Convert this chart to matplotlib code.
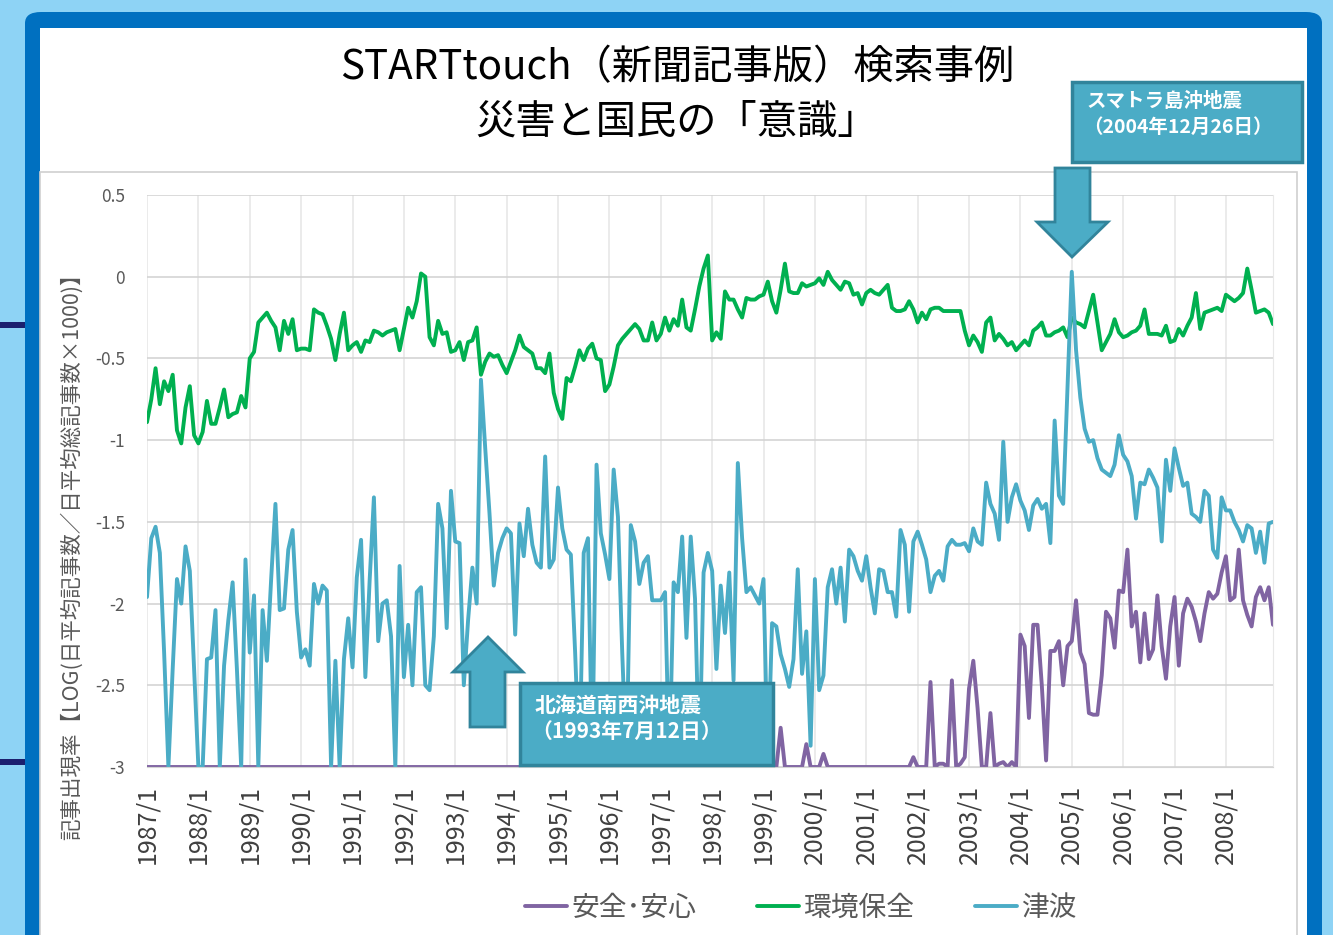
import numpy as np
import matplotlib
matplotlib.use("Agg")
import matplotlib.pyplot as plt
from matplotlib.patches import FancyBboxPatch, Rectangle, Polygon

plt.rcParams['font.family'] = ['Noto Sans CJK JP', 'DejaVu Sans']

# 月次データ 1987/1 〜 2008/12（各行 = 1年）
YEAR_LABELS = ["1987/1", "1988/1", "1989/1", "1990/1", "1991/1", "1992/1",
               "1993/1", "1994/1", "1995/1", "1996/1", "1997/1", "1998/1",
               "1999/1", "2000/1", "2001/1", "2002/1", "2003/1", "2004/1",
               "2005/1", "2006/1", "2007/1", "2008/1"]

safety = [  # 安全・安心
    -3.0, -3.0, -3.0, -3.0, -3.0, -3.0, -3.0, -3.0, -3.0, -3.0, -3.0, -3.0,
    -3.0, -3.0, -3.0, -3.0, -3.0, -3.0, -3.0, -3.0, -3.0, -3.0, -3.0, -3.0,
    -3.0, -3.0, -3.0, -3.0, -3.0, -3.0, -3.0, -3.0, -3.0, -3.0, -3.0, -3.0,
    -3.0, -3.0, -3.0, -3.0, -3.0, -3.0, -3.0, -3.0, -3.0, -3.0, -3.0, -3.0,
    -3.0, -3.0, -3.0, -3.0, -3.0, -3.0, -3.0, -3.0, -3.0, -3.0, -3.0, -3.0,
    -3.0, -3.0, -3.0, -3.0, -3.0, -3.0, -3.0, -3.0, -3.0, -3.0, -3.0, -3.0,
    -3.0, -3.0, -3.0, -3.0, -3.0, -3.0, -3.0, -3.0, -3.0, -3.0, -3.0, -3.0,
    -3.0, -3.0, -3.0, -3.0, -3.0, -3.0, -3.0, -3.0, -3.0, -3.0, -3.0, -3.0,
    -3.0, -3.0, -3.0, -3.0, -3.0, -3.0, -3.0, -3.0, -3.0, -3.0, -3.0, -3.0,
    -3.0, -3.0, -3.0, -3.0, -3.0, -3.0, -3.0, -3.0, -3.0, -3.0, -3.0, -3.0,
    -3.0, -3.0, -3.0, -3.0, -3.0, -3.0, -3.0, -3.0, -3.0, -3.0, -3.0, -3.0,
    -3.0, -3.0, -3.0, -3.0, -3.0, -3.0, -3.0, -3.0, -3.0, -3.0, -3.0, -3.0,
    -3.0, -3.0, -3.0, -3.0, -2.76, -3.0, -3.0, -3.0, -3.0, -3.0, -2.86, -3.0,
    -3.0, -3.0, -2.92, -3.0, -3.0, -3.0, -3.0, -3.0, -3.0, -3.0, -3.0, -3.0,
    -3.0, -3.0, -3.0, -3.0, -3.0, -3.0, -3.0, -3.0, -3.0, -3.0, -3.0, -2.94,
    -3.0, -3.0, -3.0, -2.48, -3.0, -2.98, -2.98, -3.0, -2.47, -3.0, -2.98, -2.94,
    -2.52, -2.35, -2.64, -3.0, -3.0, -2.67, -3.0, -2.98, -2.97, -3.0, -2.97, -3.0,
    -2.19, -2.26, -2.70, -2.13, -2.13, -2.50, -2.96, -2.29, -2.29, -2.23, -2.50, -2.26,
    -2.23, -1.98, -2.30, -2.37, -2.67, -2.68, -2.68, -2.44, -2.05, -2.09, -2.27, -1.92,
    -1.93, -1.67, -2.14, -2.05, -2.36, -2.06, -2.34, -2.28, -1.95, -2.26, -2.46, -2.14,
    -1.96, -2.38, -2.06, -1.97, -2.02, -2.11, -2.23, -2.06, -1.93, -1.97, -1.94, -1.81,
    -1.71, -1.98, -1.96, -1.67, -1.98, -2.07, -2.14, -1.96, -1.90, -1.98, -1.90, -2.13,
]

environment = [  # 環境保全
    -0.89, -0.75, -0.56, -0.78, -0.64, -0.70, -0.60, -0.94, -1.02, -0.80, -0.67, -0.97,
    -1.02, -0.95, -0.76, -0.90, -0.90, -0.80, -0.69, -0.86, -0.84, -0.83, -0.73, -0.80,
    -0.50, -0.46, -0.28, -0.25, -0.22, -0.27, -0.31, -0.45, -0.27, -0.35, -0.26, -0.45,
    -0.44, -0.44, -0.45, -0.20, -0.22, -0.23, -0.30, -0.38, -0.51, -0.35, -0.22, -0.45,
    -0.42, -0.40, -0.46, -0.39, -0.40, -0.33, -0.34, -0.36, -0.34, -0.33, -0.32, -0.45,
    -0.32, -0.19, -0.25, -0.15, 0.02, 0.00, -0.37, -0.42, -0.27, -0.35, -0.34, -0.46,
    -0.45, -0.40, -0.51, -0.40, -0.39, -0.31, -0.60, -0.52, -0.47, -0.49, -0.48, -0.54,
    -0.59, -0.52, -0.45, -0.36, -0.43, -0.45, -0.47, -0.56, -0.56, -0.59, -0.47, -0.71,
    -0.81, -0.87, -0.62, -0.64, -0.55, -0.45, -0.51, -0.44, -0.41, -0.50, -0.51, -0.70,
    -0.66, -0.55, -0.42, -0.38, -0.35, -0.32, -0.29, -0.32, -0.39, -0.39, -0.28, -0.39,
    -0.35, -0.25, -0.33, -0.26, -0.30, -0.14, -0.31, -0.33, -0.20, -0.06, 0.05, 0.13,
    -0.39, -0.34, -0.38, -0.09, -0.14, -0.14, -0.20, -0.25, -0.13, -0.14, -0.14, -0.12,
    -0.11, -0.03, -0.15, -0.22, -0.08, 0.08, -0.09, -0.10, -0.10, -0.04, -0.06, -0.05,
    -0.04, -0.01, -0.05, 0.03, -0.02, -0.05, -0.08, -0.03, -0.04, -0.11, -0.10, -0.17,
    -0.10, -0.08, -0.10, -0.11, -0.08, -0.05, -0.19, -0.21, -0.21, -0.20, -0.15, -0.20,
    -0.28, -0.22, -0.26, -0.20, -0.19, -0.19, -0.21, -0.21, -0.21, -0.21, -0.21, -0.33,
    -0.42, -0.36, -0.40, -0.46, -0.28, -0.25, -0.39, -0.35, -0.38, -0.42, -0.40, -0.45,
    -0.42, -0.39, -0.42, -0.33, -0.31, -0.28, -0.36, -0.36, -0.34, -0.33, -0.31, -0.37,
    -0.25, -0.28, -0.29, -0.31, -0.21, -0.11, -0.28, -0.45, -0.40, -0.35, -0.26, -0.34,
    -0.37, -0.36, -0.34, -0.33, -0.30, -0.20, -0.35, -0.35, -0.35, -0.36, -0.30, -0.40,
    -0.39, -0.32, -0.36, -0.30, -0.25, -0.10, -0.32, -0.22, -0.21, -0.20, -0.19, -0.21,
    -0.11, -0.13, -0.15, -0.13, -0.10, 0.05, -0.08, -0.22, -0.21, -0.20, -0.22, -0.29,
]

tsunami = [  # 津波
    -1.96, -1.60, -1.53, -1.69, -2.30, -3.00, -2.40, -1.85, -2.00, -1.65, -1.80, -2.40,
    -3.00, -3.00, -2.34, -2.33, -2.04, -3.00, -2.38, -2.10, -1.87, -2.40, -3.00, -1.73,
    -2.30, -1.95, -3.00, -2.04, -2.35, -1.85, -1.39, -2.04, -2.03, -1.67, -1.55, -2.05,
    -2.33, -2.28, -2.38, -1.88, -2.00, -1.89, -1.92, -3.00, -2.35, -3.00, -2.34, -2.09,
    -2.39, -1.84, -1.61, -2.45, -1.86, -1.35, -2.23, -2.00, -1.98, -2.20, -3.00, -1.77,
    -2.45, -2.13, -2.50, -1.93, -1.90, -2.50, -2.53, -2.20, -1.39, -1.54, -2.15, -1.31,
    -1.62, -1.63, -2.50, -2.10, -1.78, -2.00, -0.63, -1.05, -1.45, -1.89, -1.69, -1.60,
    -1.54, -1.57, -2.19, -1.51, -1.71, -1.42, -1.64, -1.75, -1.78, -1.10, -1.78, -1.73,
    -1.29, -1.54, -1.67, -1.70, -2.30, -3.00, -1.69, -1.60, -3.00, -1.15, -1.57, -1.70,
    -1.85, -1.18, -1.47, -2.30, -3.00, -1.52, -1.62, -1.88, -1.75, -1.71, -1.98, -1.98,
    -1.98, -1.93, -3.00, -1.87, -1.93, -1.59, -2.21, -1.59, -1.97, -3.00, -1.81, -1.69,
    -1.80, -2.40, -1.89, -2.18, -1.81, -2.47, -1.14, -1.60, -1.93, -1.90, -1.95, -2.00,
    -1.85, -3.00, -2.12, -2.14, -2.31, -2.40, -2.51, -2.34, -1.79, -2.43, -2.17, -2.87,
    -1.85, -2.53, -2.44, -1.90, -1.79, -2.00, -1.78, -2.11, -1.67, -1.71, -1.80, -1.86,
    -1.71, -1.90, -2.06, -1.79, -1.80, -1.93, -1.93, -2.08, -1.55, -1.64, -2.05, -1.62,
    -1.56, -1.64, -1.73, -1.93, -1.83, -1.80, -1.86, -1.65, -1.61, -1.64, -1.64, -1.63,
    -1.68, -1.54, -1.62, -1.64, -1.26, -1.39, -1.45, -1.61, -1.01, -1.50, -1.35, -1.27,
    -1.37, -1.43, -1.55, -1.40, -1.36, -1.42, -1.39, -1.63, -0.88, -1.34, -1.39, -0.68,
    0.03, -0.45, -0.74, -0.93, -1.01, -1.00, -1.11, -1.18, -1.20, -1.22, -1.15, -0.97,
    -1.09, -1.13, -1.22, -1.48, -1.26, -1.27, -1.18, -1.23, -1.29, -1.62, -1.12, -1.31,
    -1.05, -1.17, -1.28, -1.26, -1.45, -1.47, -1.50, -1.31, -1.34, -1.67, -1.72, -1.35,
    -1.43, -1.43, -1.50, -1.55, -1.62, -1.52, -1.54, -1.69, -1.56, -1.75, -1.51, -1.50,
]

SERIES = [("安全･安心", safety, "#8064a2"),
          ("環境保全", environment, "#00b050"),
          ("津波", tsunami, "#4bacc6")]

Y_TICKS = [0.5, 0, -0.5, -1, -1.5, -2, -2.5, -3]

W, H = 1333, 935


def fx(x):
    return x / W


def fy(y):
    return 1 - y / H


def fig_pts(coords):
    return [(fx(x), fy(y)) for x, y in coords]


fig = plt.figure(figsize=(W / 100, H / 100), dpi=100)
fig.patch.set_facecolor("#8ed3f5")

# 背景の枠
for yy in (325, 762):
    fig.add_artist(Rectangle((0, fy(yy + 3)), fx(30), 6 / H, transform=fig.transFigure,
                             facecolor="#1b1f6e", edgecolor="none", zorder=-5))
fig.add_artist(FancyBboxPatch((fx(25), fy(990)), fx(1322) - fx(25), fy(12) - fy(990),
                              boxstyle="round,pad=0,rounding_size=0.012",
                              transform=fig.transFigure, facecolor="#0070c0",
                              edgecolor="none", zorder=-4))
fig.add_artist(Rectangle((fx(40), fy(990)), fx(1307) - fx(40), fy(28) - fy(990),
                         transform=fig.transFigure, facecolor="white",
                         edgecolor="none", zorder=-3))
fig.add_artist(Rectangle((fx(40), fy(990)), fx(1297) - fx(40), fy(172) - fy(990),
                         transform=fig.transFigure, facecolor="none",
                         edgecolor="#d0d0d0", lw=1.2, zorder=-2))

# タイトル
fig.text(fx(677), fy(68), "STARTtouch（新聞記事版）検索事例", ha="center", va="center",
         fontsize=29, color="black")
fig.text(fx(677), fy(122), "災害と国民の「意識」", ha="center", va="center",
         fontsize=29, color="black")

ax = fig.add_axes([fx(147), fy(767), fx(1273) - fx(147), fy(195) - fy(767)])
months = np.arange(len(tsunami))
lines = []
for label, values, color in SERIES:
    ln, = ax.plot(months, values, color=color, lw=2.8, label=label,
                  solid_joinstyle="round", solid_capstyle="round")
    lines.append(ln)

ax.set_xlim(0, len(tsunami) - 1)
ax.set_ylim(-3, 0.5)
ax.set_xticks(np.arange(0, len(tsunami), 12))
ax.set_xticklabels(YEAR_LABELS, rotation=90)
ax.set_yticks(Y_TICKS)
ax.set_yticklabels([f"{t:g}" for t in Y_TICKS])
ax.set_axisbelow(True)
ax.grid(axis="y", color="#d4d4d4", lw=1.2)
ax.grid(axis="x", color="#e8e8e8", lw=1.2)
for side in ("top", "left"):
    ax.spines[side].set_visible(False)
ax.spines["right"].set_color("#e8e8e8")
ax.spines["bottom"].set_color("#d4d4d4")
ax.tick_params(axis="y", length=0, pad=16, labelsize=12.5, labelcolor="#595959")
ax.tick_params(axis="x", length=0, pad=13, labelsize=18, labelcolor="#404040")

fig.text(fx(72), fy(551), "記事出現率【LOG(日平均記事数／日平均総記事数×1000)】",
         rotation=90, ha="center", va="center", fontsize=15.5, color="#595959")

# 注釈（矢印と吹き出し）
ARROW_FC, ARROW_EC = "#4bacc6", "#31849b"
fig.add_artist(Polygon(fig_pts([(488, 637), (523, 672), (505, 672), (505, 727),
                                (470, 727), (470, 672), (453, 672)]),
                       closed=True, transform=fig.transFigure, facecolor=ARROW_FC,
                       edgecolor=ARROW_EC, lw=2, zorder=5))
fig.add_artist(Polygon(fig_pts([(1055, 168), (1090, 168), (1090, 222), (1108, 222),
                                (1072, 257), (1037, 222), (1055, 222)]),
                       closed=True, transform=fig.transFigure, facecolor=ARROW_FC,
                       edgecolor=ARROW_EC, lw=2, zorder=5))
fig.add_artist(Rectangle((fx(520), fy(765)), fx(773) - fx(520), fy(683) - fy(765),
                         transform=fig.transFigure, facecolor=ARROW_FC,
                         edgecolor=ARROW_EC, lw=2.5, zorder=5))
fig.add_artist(Rectangle((fx(1072), fy(162)), fx(1302) - fx(1072), fy(82) - fy(162),
                         transform=fig.transFigure, facecolor=ARROW_FC,
                         edgecolor=ARROW_EC, lw=2.5, zorder=5))
fig.text(fx(535), fy(705), "北海道南西沖地震", ha="left", va="center", fontsize=15,
         fontweight="bold", color="white", zorder=6)
fig.text(fx(531), fy(731), "（1993年7月12日）", ha="left", va="center", fontsize=15,
         fontweight="bold", color="white", zorder=6)
fig.text(fx(1087), fy(101), "スマトラ島沖地震", ha="left", va="center", fontsize=14,
         fontweight="bold", color="white", zorder=6)
fig.text(fx(1083), fy(127), "（2004年12月26日）", ha="left", va="center", fontsize=14,
         fontweight="bold", color="white", zorder=6)

fig.legend(handles=lines, labels=[s[0] for s in SERIES], loc="center",
           bbox_to_anchor=(fx(801), fy(908)), ncol=3, frameon=False, fontsize=20,
           handlelength=1.5, handletextpad=0.15, columnspacing=2.2,
           labelcolor="#595959")

fig.savefig("out.png", dpi=100)
